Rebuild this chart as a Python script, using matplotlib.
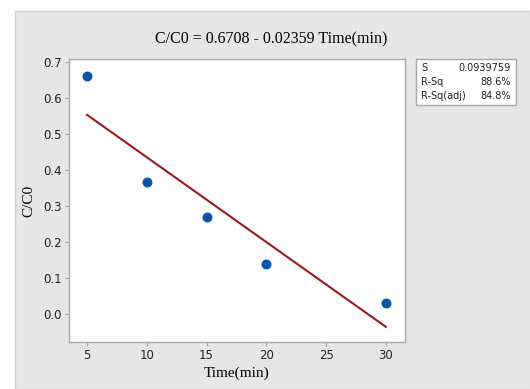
import matplotlib.pyplot as plt
from matplotlib.patches import Rectangle
import numpy as np

# data
time_min = [5, 10, 15, 20, 30]
c_ratio = [0.66, 0.365, 0.27, 0.138, 0.03]
intercept = 0.6708
slope = -0.02359
stat_names = ['S', 'R-Sq', 'R-Sq(adj)']
stat_values = ['0.0939759', '88.6%', '84.8%']
x_ticks = [5, 10, 15, 20, 25, 30]
y_ticks = [0.0, 0.1, 0.2, 0.3, 0.4, 0.5, 0.6, 0.7]

W, H = 530, 389
fig = plt.figure(figsize=(5.3, 3.89), dpi=100)
fig.patch.set_facecolor('white')

# gray panel behind the plot
panel = Rectangle((15 / W, 0), 1 - 15 / W, 1 - 11 / H, transform=fig.transFigure,
                  facecolor='#e6e6e6', edgecolor='#cfcfcf', linewidth=1, zorder=-10)
fig.patches.append(panel)

ax = fig.add_axes([69 / W, 1 - 342 / H, (405 - 69) / W, (342 - 59) / H])
ax.set_facecolor('white')

ax.scatter(time_min, c_ratio, s=38, color='#0a55a5', zorder=3)
xs = np.array([time_min[0], time_min[-1]])
ax.plot(xs, intercept + slope * xs, color='#9b1b1b', linewidth=1.5, zorder=2)

ax.set_xlim(3.5, 31.6)
ax.set_ylim(-0.079, 0.708)
ax.set_xticks(x_ticks)
ax.set_yticks(y_ticks)
ax.set_yticklabels([f'{v:.1f}' for v in y_ticks])

for sp in ax.spines.values():
    sp.set_color('#a8a8a8')
    sp.set_linewidth(1.0)
ax.tick_params(direction='out', length=3, width=0.8, color='#a8a8a8',
               labelsize=8.5, labelcolor='#222222', pad=2)
for lab in ax.get_xticklabels() + ax.get_yticklabels():
    lab.set_fontfamily('DejaVu Sans')

ax.set_xlabel('Time(min)', fontfamily='Liberation Serif', fontsize=11, labelpad=3)
ax.set_ylabel('C/C0', fontfamily='Liberation Serif', fontsize=11, labelpad=6)
fig.text(271 / W, 1 - 39 / H, 'C/C0 = 0.6708 - 0.02359 Time(min)',
         ha='center', va='center', fontfamily='Liberation Serif', fontsize=11.5)

# statistics box
box = Rectangle((416 / W, 1 - 105 / H), (516 - 416) / W, (105 - 59) / H,
                transform=fig.transFigure, facecolor='white', edgecolor='#a8a8a8',
                linewidth=1, zorder=1)
fig.patches.append(box)
for i, (n, v) in enumerate(zip(stat_names, stat_values)):
    y = 1 - (68 + i * 14) / H
    fig.text(421 / W, y, n, ha='left', va='center', fontsize=7, color='#222222')
    fig.text(511 / W, y, v, ha='right', va='center', fontsize=7, color='#222222')

fig.savefig('out.png', dpi=100)
